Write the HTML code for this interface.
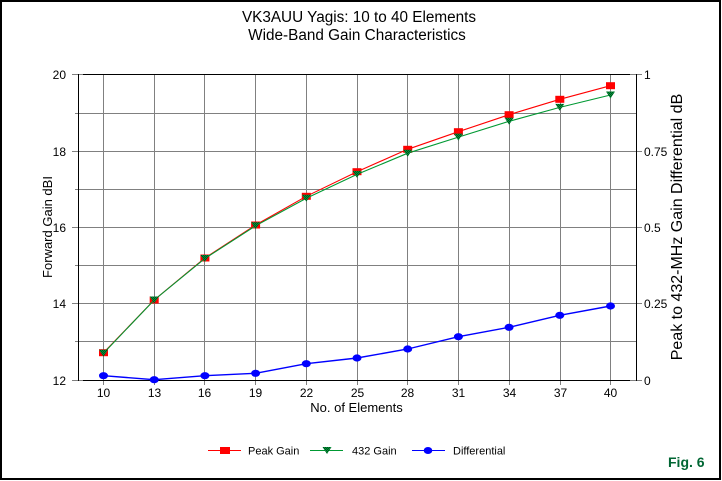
<!DOCTYPE html>
<html>
<head>
<meta charset="utf-8">
<style>
html,body{margin:0;padding:0;background:#fff;}
svg{display:block;}
text{font-family:"Liberation Sans",Arial,sans-serif;fill:#000;}
</style>
</head>
<body>
<svg width="722" height="481" viewBox="0 0 722 481" xmlns="http://www.w3.org/2000/svg">
<defs>
<pattern id="chk" width="2" height="2" patternUnits="userSpaceOnUse">
<rect width="2" height="2" fill="#009a3c"/>
<rect x="0" y="0" width="1" height="1" fill="#004d1a"/>
<rect x="1" y="1" width="1" height="1" fill="#004d1a"/>
</pattern>
</defs>
<rect x="0" y="0" width="722" height="481" fill="#fff"/>
<rect x="1" y="1" width="719" height="478" fill="none" stroke="#000" stroke-width="2"/>

<!-- Title -->
<text x="359" y="22" font-size="15.3" text-anchor="middle">VK3AUU Yagis: 10 to 40 Elements</text>
<text x="357" y="40" font-size="15.3" text-anchor="middle">Wide-Band Gain Characteristics</text>

<!-- grid -->
<g stroke="#808080" stroke-width="1" fill="none">
<line x1="103.5" y1="74" x2="103.5" y2="385"/>
<line x1="154.5" y1="74" x2="154.5" y2="385"/>
<line x1="204.5" y1="74" x2="204.5" y2="385"/>
<line x1="255.5" y1="74" x2="255.5" y2="385"/>
<line x1="306.5" y1="74" x2="306.5" y2="385"/>
<line x1="357.5" y1="74" x2="357.5" y2="385"/>
<line x1="407.5" y1="74" x2="407.5" y2="385"/>
<line x1="458.5" y1="74" x2="458.5" y2="385"/>
<line x1="509.5" y1="74" x2="509.5" y2="385"/>
<line x1="560.5" y1="74" x2="560.5" y2="385"/>
<line x1="610.5" y1="74" x2="610.5" y2="385"/>
<line x1="72" y1="74.5" x2="642" y2="74.5"/>
<line x1="75" y1="113.5" x2="636" y2="113.5"/>
<line x1="72" y1="151.5" x2="642" y2="151.5"/>
<line x1="75" y1="189.5" x2="636" y2="189.5"/>
<line x1="72" y1="227.5" x2="642" y2="227.5"/>
<line x1="75" y1="265.5" x2="636" y2="265.5"/>
<line x1="72" y1="303.5" x2="642" y2="303.5"/>
<line x1="75" y1="341.5" x2="636" y2="341.5"/>
<line x1="72" y1="380.5" x2="642" y2="380.5"/>
</g>
<!-- frame -->
<g stroke="#000" stroke-width="1">
<line x1="83" y1="74.5" x2="630" y2="74.5"/>
<line x1="83" y1="380.5" x2="630" y2="380.5"/>
<line x1="78.5" y1="74" x2="78.5" y2="381"/>
<line x1="636.5" y1="74" x2="636.5" y2="381"/>
</g>

<!-- left tick labels -->
<g font-size="12" text-anchor="end">
<text x="66" y="79">20</text>
<text x="66" y="156">18</text>
<text x="66" y="232">16</text>
<text x="66" y="308">14</text>
<text x="66" y="385">12</text>
</g>
<!-- right tick labels -->
<g font-size="12">
<text x="644" y="79">1</text>
<text x="644" y="156">0.75</text>
<text x="644" y="232">0.5</text>
<text x="644" y="308">0.25</text>
<text x="644" y="385">0</text>
</g>
<!-- x tick labels -->
<g font-size="12" text-anchor="middle">
<text x="103.5" y="397">10</text>
<text x="154.5" y="397">13</text>
<text x="204.5" y="397">16</text>
<text x="255.5" y="397">19</text>
<text x="306.5" y="397">22</text>
<text x="357.5" y="397">25</text>
<text x="407.5" y="397">28</text>
<text x="458.5" y="397">31</text>
<text x="509.5" y="397">34</text>
<text x="560.5" y="397">37</text>
<text x="610.5" y="397">40</text>
</g>
<text x="356.5" y="412" font-size="13" text-anchor="middle">No. of Elements</text>
<text transform="translate(52,227) rotate(-90)" font-size="13" text-anchor="middle">Forward Gain dBI</text>
<text transform="translate(682,227) rotate(-90)" font-size="16" text-anchor="middle">Peak to 432-MHz Gain Differential dB</text>

<!-- Peak gain -->
<polyline fill="none" stroke="#ff0000" stroke-width="1.1" points="103.5,352.7 154.2,300 204.9,258 255.6,225 306.3,196.3 357,171.7 407.7,149.3 458.4,131.7 509.1,114.7 559.8,99.3 610.5,85.7"/>
<g fill="#ff0000">
<rect x="99" y="349.2" width="9" height="7"/>
<rect x="149.7" y="296.5" width="9" height="7"/>
<rect x="200.4" y="254.5" width="9" height="7"/>
<rect x="251.1" y="221.5" width="9" height="7"/>
<rect x="301.8" y="192.8" width="9" height="7"/>
<rect x="352.5" y="168.2" width="9" height="7"/>
<rect x="403.2" y="145.8" width="9" height="7"/>
<rect x="453.9" y="128.2" width="9" height="7"/>
<rect x="504.6" y="111.2" width="9" height="7"/>
<rect x="555.3" y="95.8" width="9" height="7"/>
<rect x="606" y="82.2" width="9" height="7"/>
</g>
<!-- 432 gain -->
<polyline fill="none" stroke="#009933" stroke-width="1.1" points="103.5,353.2 154.2,300 204.9,258.5 255.6,225.8 306.3,198.3 357,174.4 407.7,153.2 458.4,137.1 509.1,121.3 559.8,107.4 610.5,95"/>
<g fill="url(#chk)">
<polygon points="99,349.7 108,349.7 103.5,356.7"/>
<polygon points="149.7,296.5 158.7,296.5 154.2,303.5"/>
<polygon points="200.4,255 209.4,255 204.9,262"/>
<polygon points="251.1,222.3 260.1,222.3 255.6,229.3"/>
<polygon points="301.8,194.8 310.8,194.8 306.3,201.8"/>
<polygon points="352.5,170.9 361.5,170.9 357,177.9"/>
<polygon points="403.2,149.7 412.2,149.7 407.7,156.7"/>
<polygon points="453.9,133.6 462.9,133.6 458.4,140.6"/>
<polygon points="504.6,117.8 513.6,117.8 509.1,124.8"/>
<polygon points="555.3,103.9 564.3,103.9 559.8,110.9"/>
<polygon points="606,91.5 615,91.5 610.5,98.5"/>
</g>
<!-- Differential -->
<polyline fill="none" stroke="#0000ff" stroke-width="1.4" points="103.5,375.7 154.2,379.7 204.9,375.7 255.6,373.3 306.3,363.7 357,358 407.7,349 458.4,336.7 509.1,327.3 559.8,315.3 610.5,306"/>
<g fill="#0000ff">
<ellipse cx="103.5" cy="375.7" rx="4.5" ry="3.6"/>
<ellipse cx="154.2" cy="379.7" rx="4.5" ry="3.6"/>
<ellipse cx="204.9" cy="375.7" rx="4.5" ry="3.6"/>
<ellipse cx="255.6" cy="373.3" rx="4.5" ry="3.6"/>
<ellipse cx="306.3" cy="363.7" rx="4.5" ry="3.6"/>
<ellipse cx="357" cy="358" rx="4.5" ry="3.6"/>
<ellipse cx="407.7" cy="349" rx="4.5" ry="3.6"/>
<ellipse cx="458.4" cy="336.7" rx="4.5" ry="3.6"/>
<ellipse cx="509.1" cy="327.3" rx="4.5" ry="3.6"/>
<ellipse cx="559.8" cy="315.3" rx="4.5" ry="3.6"/>
<ellipse cx="610.5" cy="306" rx="4.5" ry="3.6"/>
</g>

<!-- Legend -->
<line x1="208" y1="450.5" x2="241" y2="450.5" stroke="#ff0000" stroke-width="1"/>
<rect x="220" y="447" width="10" height="7" fill="#ff0000"/>
<text x="248" y="454.5" font-size="11">Peak Gain</text>
<line x1="310" y1="450.5" x2="343" y2="450.5" stroke="#009933" stroke-width="1"/>
<polygon points="322.5,447 331.5,447 327,454" fill="url(#chk)"/>
<text x="352" y="454.5" font-size="11">432 Gain</text>
<line x1="412" y1="450.5" x2="445" y2="450.5" stroke="#0000ff" stroke-width="1"/>
<ellipse cx="428" cy="450.5" rx="4.3" ry="3.5" fill="#0000ff"/>
<text x="453" y="454.5" font-size="11">Differential</text>

<text x="668" y="467" font-size="14" font-weight="bold" style="fill:#006633">Fig. 6</text>
</svg>
</body>
</html>
